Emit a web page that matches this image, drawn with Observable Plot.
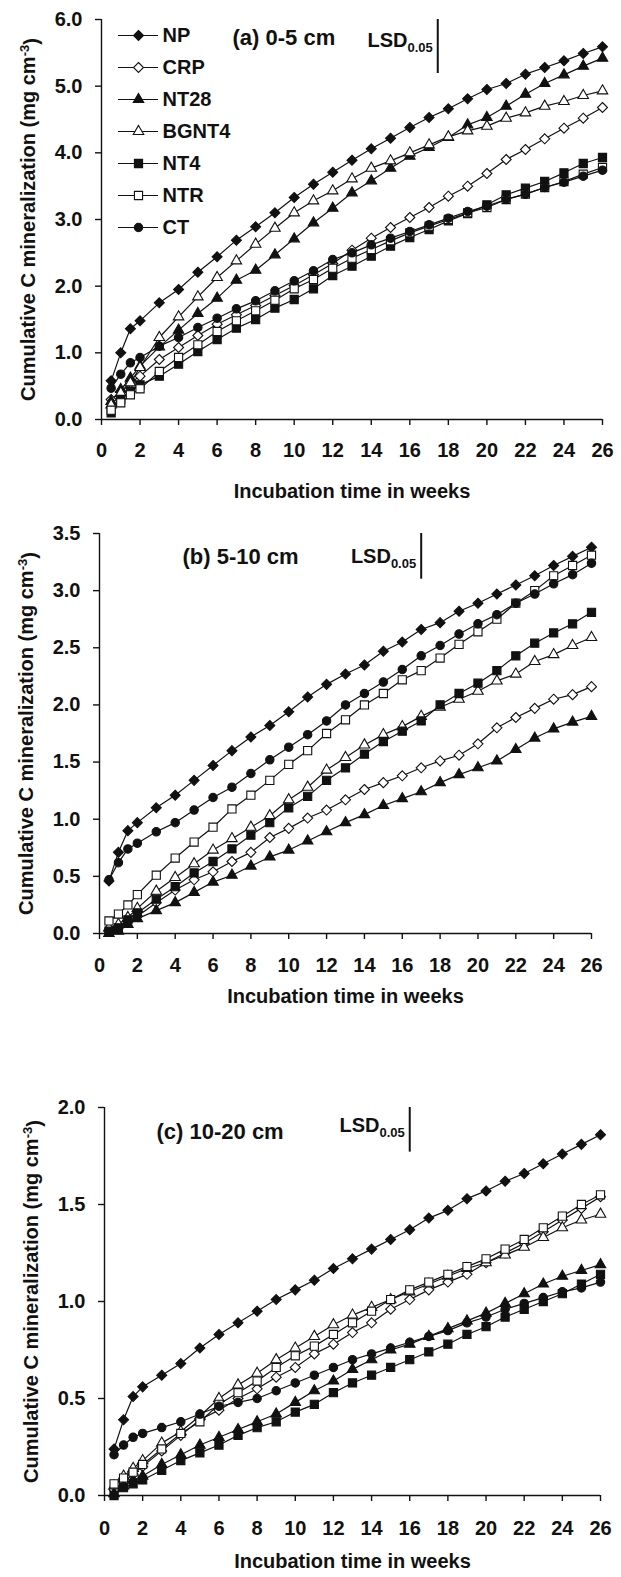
<!DOCTYPE html>
<html><head><meta charset="utf-8">
<script src="https://cdn.jsdelivr.net/npm/d3@7"></script>
<script src="https://cdn.jsdelivr.net/npm/@observablehq/plot@0.6"></script>
<style>
body{margin:0;background:#fff;}
#chart{position:relative;width:621px;height:1577px;background:#fff;overflow:hidden;}
#chart > svg{display:block;}
#legend{position:absolute;left:108px;top:18px;}
</style></head><body><div id="chart"><div id="legend"></div></div>
<script>
// ---------- data ----------
const weeks = [0.5, 1, 1.5, 2, 3, 4, 5, 6, 7, 8, 9, 10, 11, 12, 13, 14, 15, 16, 17, 18, 19, 20, 21, 22, 23, 24, 25, 26];
const seriesNames = ["NP", "CRP", "NT28", "BGNT4", "NT4", "NTR", "CT"];
const xTicks = [0, 2, 4, 6, 8, 10, 12, 14, 16, 18, 20, 22, 24, 26];
const yTicksA = [0, 1, 2, 3, 4, 5, 6];
const yTicksB = [0, 0.5, 1, 1.5, 2, 2.5, 3, 3.5];
const yTicksC = [0, 0.5, 1, 1.5, 2];
const panelTitles = ["(a) 0-5 cm", "(b) 5-10 cm", "(c) 10-20 cm"];
const lsdValues = [0.81, 0.40, 0.23];
const xTitle = "Incubation time in weeks";
const yTitle = "Cumulative C mineralization (mg cm-3)";

// (a) 0-5 cm
const a_NP    = [0.58, 1.0, 1.36, 1.48, 1.75, 1.95, 2.21, 2.44, 2.69, 2.89, 3.1, 3.33, 3.53, 3.71, 3.89, 4.06, 4.22, 4.38, 4.53, 4.66, 4.81, 4.95, 5.04, 5.18, 5.28, 5.38, 5.49, 5.59];
const a_CRP   = [0.3, 0.42, 0.55, 0.65, 0.9, 1.08, 1.26, 1.43, 1.57, 1.71, 1.86, 2.01, 2.17, 2.34, 2.54, 2.72, 2.88, 3.03, 3.18, 3.35, 3.5, 3.69, 3.9, 4.05, 4.21, 4.37, 4.52, 4.68];
const a_NT28  = [0.27, 0.45, 0.62, 0.8, 1.09, 1.34, 1.59, 1.82, 2.09, 2.24, 2.47, 2.71, 2.95, 3.17, 3.4, 3.58, 3.77, 3.95, 4.08, 4.23, 4.42, 4.53, 4.7, 4.88, 5.04, 5.17, 5.3, 5.42];
const a_BGNT4 = [0.22, 0.4, 0.55, 0.78, 1.23, 1.54, 1.84, 2.13, 2.38, 2.63, 2.87, 3.1, 3.28, 3.43, 3.61, 3.77, 3.88, 4.0, 4.12, 4.24, 4.33, 4.4, 4.52, 4.6, 4.7, 4.77, 4.86, 4.93];
const a_NT4   = [0.1, 0.3, 0.42, 0.52, 0.65, 0.83, 1.02, 1.2, 1.37, 1.5, 1.67, 1.8, 1.96, 2.16, 2.3, 2.45, 2.6, 2.73, 2.85, 2.98, 3.09, 3.22, 3.37, 3.47, 3.57, 3.7, 3.84, 3.93];
const a_NTR   = [0.14, 0.25, 0.37, 0.46, 0.72, 0.93, 1.12, 1.32, 1.48, 1.63, 1.79, 1.96, 2.1, 2.27, 2.42, 2.55, 2.68, 2.8, 2.9, 3.0, 3.1, 3.18, 3.3, 3.38, 3.48, 3.57, 3.68, 3.78];
const a_CT    = [0.47, 0.68, 0.85, 0.93, 1.1, 1.23, 1.38, 1.52, 1.66, 1.78, 1.93, 2.08, 2.23, 2.4, 2.5, 2.62, 2.72, 2.82, 2.92, 3.02, 3.12, 3.2, 3.3, 3.38, 3.48, 3.56, 3.65, 3.74];

// (b) 5-10 cm
const b_NP    = [0.46, 0.71, 0.9, 0.97, 1.1, 1.21, 1.34, 1.47, 1.6, 1.72, 1.82, 1.94, 2.07, 2.18, 2.27, 2.35, 2.47, 2.55, 2.66, 2.72, 2.82, 2.89, 2.97, 3.05, 3.13, 3.22, 3.3, 3.38];
const b_CRP   = [0.02, 0.05, 0.1, 0.15, 0.27, 0.38, 0.47, 0.54, 0.63, 0.71, 0.84, 0.92, 1.01, 1.08, 1.17, 1.26, 1.32, 1.38, 1.45, 1.51, 1.56, 1.66, 1.8, 1.89, 1.97, 2.05, 2.09, 2.16];
const b_NT28  = [0.0, 0.02, 0.08, 0.13, 0.2, 0.27, 0.36, 0.45, 0.51, 0.59, 0.67, 0.73, 0.81, 0.89, 0.97, 1.04, 1.12, 1.18, 1.24, 1.32, 1.39, 1.45, 1.51, 1.61, 1.71, 1.79, 1.85, 1.9];
const b_BGNT4 = [0.05, 0.08, 0.14, 0.22, 0.37, 0.49, 0.61, 0.73, 0.83, 0.93, 1.03, 1.17, 1.28, 1.43, 1.54, 1.65, 1.74, 1.81, 1.9, 1.98, 2.05, 2.12, 2.21, 2.27, 2.38, 2.44, 2.52, 2.59];
const b_NT4   = [0.02, 0.05, 0.12, 0.18, 0.3, 0.41, 0.53, 0.63, 0.74, 0.86, 0.97, 1.1, 1.2, 1.34, 1.45, 1.57, 1.68, 1.77, 1.86, 2.0, 2.1, 2.19, 2.3, 2.43, 2.54, 2.63, 2.71, 2.81];
const b_NTR   = [0.11, 0.17, 0.25, 0.34, 0.51, 0.66, 0.8, 0.93, 1.09, 1.21, 1.34, 1.48, 1.6, 1.75, 1.87, 2.0, 2.1, 2.22, 2.3, 2.41, 2.53, 2.64, 2.75, 2.89, 3.0, 3.13, 3.22, 3.31];
const b_CT    = [0.47, 0.62, 0.74, 0.79, 0.89, 0.97, 1.08, 1.19, 1.28, 1.4, 1.52, 1.63, 1.74, 1.86, 2.0, 2.1, 2.2, 2.31, 2.43, 2.52, 2.62, 2.71, 2.79, 2.89, 2.97, 3.06, 3.14, 3.24];

// (c) 10-20 cm
const c_NP    = [0.24, 0.39, 0.51, 0.56, 0.62, 0.68, 0.76, 0.83, 0.89, 0.95, 1.01, 1.06, 1.11, 1.17, 1.22, 1.27, 1.32, 1.37, 1.43, 1.47, 1.53, 1.57, 1.62, 1.66, 1.71, 1.76, 1.81, 1.86];
const c_CRP   = [0.03, 0.07, 0.11, 0.15, 0.23, 0.31, 0.39, 0.44, 0.5, 0.55, 0.61, 0.66, 0.73, 0.78, 0.84, 0.89, 0.96, 1.01, 1.06, 1.1, 1.14, 1.2, 1.25, 1.3, 1.36, 1.42, 1.48, 1.54];
const c_NT28  = [0.01, 0.05, 0.08, 0.1, 0.16, 0.21, 0.26, 0.3, 0.34, 0.38, 0.42, 0.48, 0.54, 0.59, 0.65, 0.7, 0.75, 0.78, 0.82, 0.86, 0.9, 0.94, 0.99, 1.04, 1.09, 1.13, 1.16, 1.19];
const c_BGNT4 = [0.05, 0.1, 0.14, 0.18, 0.27, 0.33, 0.41, 0.5, 0.57, 0.63, 0.7, 0.76, 0.82, 0.88, 0.93, 0.97, 1.01, 1.05, 1.09, 1.13, 1.17, 1.2, 1.24, 1.28, 1.33, 1.38, 1.42, 1.45];
const c_NT4   = [0.0, 0.04, 0.06, 0.08, 0.13, 0.18, 0.22, 0.26, 0.31, 0.35, 0.38, 0.43, 0.47, 0.53, 0.58, 0.62, 0.66, 0.7, 0.74, 0.78, 0.83, 0.87, 0.92, 0.96, 1.0, 1.04, 1.09, 1.14];
const c_NTR   = [0.06, 0.09, 0.12, 0.16, 0.24, 0.32, 0.38, 0.47, 0.53, 0.59, 0.66, 0.72, 0.77, 0.83, 0.89, 0.95, 1.01, 1.06, 1.1, 1.14, 1.18, 1.22, 1.27, 1.32, 1.38, 1.44, 1.5, 1.55];
const c_CT    = [0.21, 0.26, 0.3, 0.32, 0.35, 0.38, 0.42, 0.46, 0.48, 0.5, 0.54, 0.58, 0.62, 0.66, 0.7, 0.73, 0.76, 0.79, 0.82, 0.85, 0.89, 0.92, 0.96, 0.99, 1.02, 1.05, 1.07, 1.1];

// ---------- styles ----------
const FONT = '"Liberation Sans", Arial, Helvetica, sans-serif';
const INK = "#111";
const seriesSymbols = ["diamond2", "diamond2", "triangle", "triangle", "square", "square", "circle"];
const seriesOpen = [false, true, false, true, false, true, false];
const markerR = [4.5, 4.5, 3.9, 3.9, 4.6, 4.6, 4.2];

const panelValues = [
  {NP: a_NP, CRP: a_CRP, NT28: a_NT28, BGNT4: a_BGNT4, NT4: a_NT4, NTR: a_NTR, CT: a_CT},
  {NP: b_NP, CRP: b_CRP, NT28: b_NT28, BGNT4: b_BGNT4, NT4: b_NT4, NTR: b_NTR, CT: b_CT},
  {NP: c_NP, CRP: c_CRP, NT28: c_NT28, BGNT4: c_BGNT4, NT4: c_NT4, NTR: c_NTR, CT: c_CT}
];
const yTickSets = [yTicksA, yTicksB, yTicksC];

// layout (pixels) per panel
const layout = [
  {height: 505, top: 19, bottom: 86, left: 101, right: 19, tickPad: 17, xTitleDy: 78, titleDx: 131, titleDy: 10, lsdWeek: 17.45, lsdDy: -6},
  {height: 535, top: 28, bottom: 107, left: 99, right: 30, tickPad: 18, xTitleDy: 69, titleDx: 83, titleDy: 15, lsdWeek: 17.0, lsdDy: 0},
  {height: 537, top: 67, bottom: 82, left: 104, right: 21, tickPad: 19, xTitleDy: 72, titleDx: 52, titleDy: 16, lsdWeek: 16.0, lsdDy: -4}
];

function decorate(svg) {
  svg.querySelectorAll("text").forEach(t => {
    const s = t.textContent;
    if (s === yTitle) {
      t.textContent = "Cumulative C mineralization (mg cm";
      const sup = document.createElementNS("http://www.w3.org/2000/svg", "tspan");
      sup.setAttribute("dy", "-0.45em");
      sup.setAttribute("font-size", "13");
      sup.textContent = "-3";
      t.appendChild(sup);
      const end = document.createElementNS("http://www.w3.org/2000/svg", "tspan");
      end.setAttribute("dy", "0.45em");
      end.textContent = ")";
      t.appendChild(end);
    } else if (s === "LSD0.05") {
      t.textContent = "LSD";
      const sub = document.createElementNS("http://www.w3.org/2000/svg", "tspan");
      sub.setAttribute("dy", "5");
      sub.setAttribute("font-size", "13");
      sub.textContent = "0.05";
      t.appendChild(sub);
    }
  });
}

function drawPanel(k) {
  const vals = panelValues[k];
  const L = layout[k];
  const yTicks = yTickSets[k];
  const yMax = d3.max(yTicks);
  const lsd = lsdValues[k];
  const rows = seriesNames.map(n => weeks.map((w, j) => ({week: w, value: vals[n][j]})));
  const marks = [];
  rows.forEach(r => marks.push(Plot.line(r, {x: "week", y: "value", stroke: INK, strokeWidth: 1.2})));
  rows.forEach((r, i) => marks.push(Plot.dot(r, {
    x: "week", y: "value", symbol: seriesSymbols[i], r: markerR[i],
    fill: seriesOpen[i] ? "#fff" : INK, stroke: INK, strokeWidth: 1.1
  })));
  marks.push(Plot.ruleX([0], {stroke: INK, strokeWidth: 1.4}));
  marks.push(Plot.ruleY([0], {stroke: INK, strokeWidth: 1.4}));
  marks.push(Plot.axisY({ticks: yTicks, tickFormat: d3.format(".1f"), tickSize: 6, tickPadding: 13, label: null, stroke: INK, strokeWidth: 1.4, fill: INK}));
  marks.push(Plot.axisX({ticks: xTicks, tickFormat: d => String(d), tickSize: 6, tickPadding: L.tickPad, label: null, stroke: INK, strokeWidth: 1.4, fill: INK}));
  marks.push(Plot.text([yTitle], {frameAnchor: "left", dx: -73, rotate: -90, textAnchor: "middle", lineAnchor: "middle", fill: INK, fontSize: 20}));
  marks.push(Plot.text([xTitle], {frameAnchor: "bottom", dy: L.xTitleDy, textAnchor: "middle", fill: INK, fontSize: 20}));
  marks.push(Plot.text([panelTitles[k]], {frameAnchor: "top-left", dx: L.titleDx, dy: L.titleDy, textAnchor: "start", fill: INK, fontSize: 22}));
  marks.push(Plot.ruleX([L.lsdWeek], {y1: yMax, y2: yMax - lsd, stroke: INK, strokeWidth: 2}));
  marks.push(Plot.text(["LSD0.05"], {x: L.lsdWeek, y: yMax - lsd / 2, dx: -5, dy: L.lsdDy, textAnchor: "end", fill: INK, fontSize: 20}));
  const svg = Plot.plot({
    width: 621, height: L.height,
    marginTop: L.top, marginBottom: L.bottom, marginLeft: L.left, marginRight: L.right,
    x: {domain: [0, 26]},
    y: {domain: [0, yMax]},
    style: {fontFamily: FONT, fontSize: "20px", fontWeight: "bold", background: "#fff", overflow: "visible", color: INK},
    marks
  });
  decorate(svg);
  return svg;
}

const chart = document.getElementById("chart");
[0, 1, 2].forEach(k => chart.appendChild(drawPanel(k)));

// legend (inside panel a)
const legendMarks = [
  Plot.ruleY(seriesNames, {y: d => d, x1: 0, x2: 1, stroke: INK, strokeWidth: 1.2})
];
seriesNames.forEach((n, i) => legendMarks.push(Plot.dot([n], {
  x: 0.5, y: d => d, symbol: seriesSymbols[i], r: markerR[i],
  fill: seriesOpen[i] ? "#fff" : INK, stroke: INK, strokeWidth: 1.1
})));
legendMarks.push(Plot.text(seriesNames, {x: 1, y: d => d, text: d => d, dx: 4, textAnchor: "start", fill: INK, fontSize: 20}));
const legend = Plot.plot({
  width: 110, height: 226,
  marginTop: 16, marginBottom: 16, marginLeft: 10, marginRight: 60,
  x: {domain: [0, 1], axis: null},
  y: {type: "point", domain: seriesNames, padding: 0, axis: null},
  style: {fontFamily: FONT, fontSize: "20px", fontWeight: "bold", background: "transparent", overflow: "visible"},
  marks: legendMarks
});
document.getElementById("legend").appendChild(legend);
chart.appendChild(document.getElementById("legend"));
</script>
</body></html>
